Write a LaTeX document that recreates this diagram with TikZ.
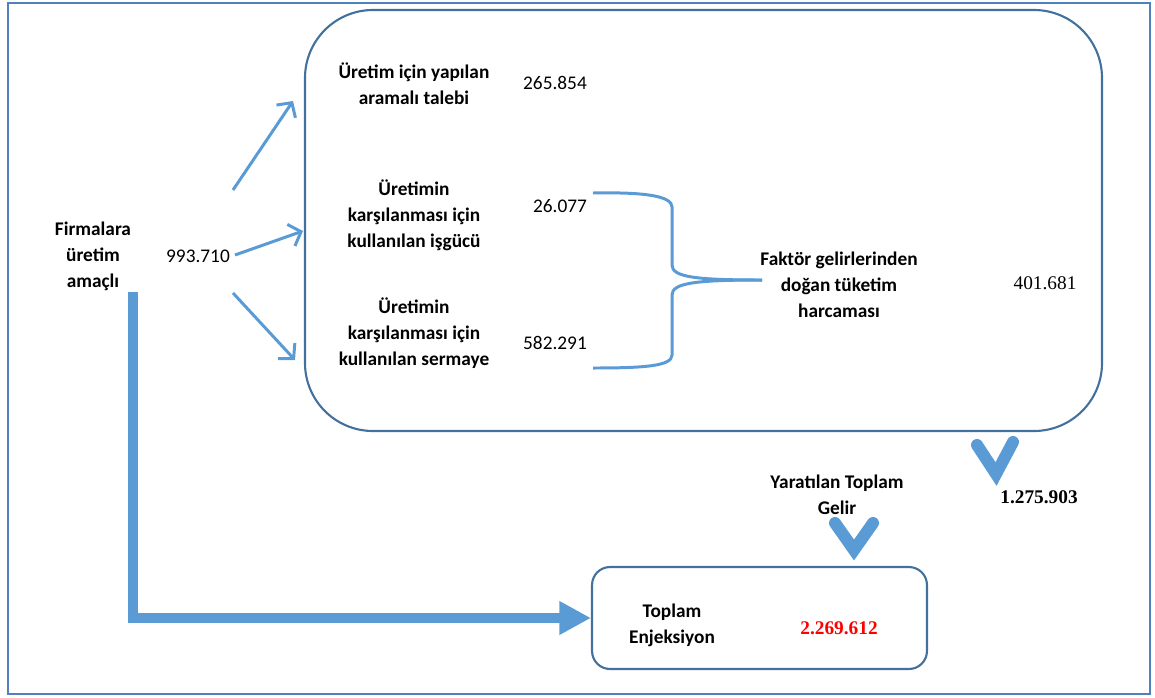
\documentclass[tikz,border=0pt]{standalone}
\usepackage{fontspec}
\setmainfont{Carlito}
\newfontfamily\timesf{Liberation Serif}
\usepackage{xcolor}
\usepackage{tikz}
\usetikzlibrary{arrows.meta,positioning}
\definecolor{frame1}{RGB}{79,129,189}
\definecolor{box1}{RGB}{65,113,156}
\definecolor{arrow1}{RGB}{91,155,213}
\definecolor{red1}{RGB}{255,0,0}

\tikzset{
  label/.style={align=center, inner sep=0pt, font={\fontsize{11}{14.8}\selectfont\bfseries}},
  value/.style={inner sep=0pt, font={\fontsize{11}{14.8}\selectfont}},
  tvalue/.style={inner sep=0pt, font={\fontsize{11}{14.8}\selectfont\timesf}},
  thin arrow/.style={arrow1, line width=1.7pt, -{Straight Barb[length=6pt,width=13pt]}},
  chevron/.style={arrow1, line width=0.24cm, line cap=round, line join=miter},
}

\begin{document}
\begin{tikzpicture}[x=0.02cm, y=-0.02cm]
    \useasboundingbox (0,0) rectangle (1155,697);
    % Outer frame
    \draw[frame1, line width=1.2pt] (8,3) rectangle (1150,694);
    % Big box
    \draw[box1, line width=1.2pt, rounded corners=1.36cm] (305,10) rectangle (1102,431);
    % Bottom box
    \node[draw=box1, line width=1.2pt, rounded corners=0.36cm, minimum width=6.7cm, minimum height=2.04cm] (enjkutu) at (759.5,618) {};
    % Left labels
    \node[label] (firma) at (93,256) {Firmalara\\üretim\\amaçlı};
    \node[value] (firmaval) at (198,256) {993.710};
    % Labels inside big box
    \node[label] (talep) at (414,84) {Üretim için yapılan\\aramalı talebi};
    \node[value] (talepval) at (555,83) {265.854};
    \node[label] (isgucu) at (414,215) {Üretimin\\karşılanması için\\kullanılan işgücü};
    \node[value] (isgucuval) at (560,206) {26.077};
    \node[label] (sermaye) at (414,333) {Üretimin\\karşılanması için\\kullanılan sermaye};
    \node[value] (sermayeval) at (555,343) {582.291};
    \node[label] (faktor) at (839,285) {Faktör gelirlerinden\\doğan tüketim\\harcaması};
    \node[tvalue] (faktorval) at (1045,283) {401.681};
    % Totals
    \node[tvalue, font={\fontsize{11}{14.8}\selectfont\timesf\bfseries}] (gelirval) at (1039,497) {1.275.903};
    \node[label] (toplamgelir) at (837,495) {Yaratılan Toplam\\Gelir};
    \node[label] (enjeksiyon) at (672,625) {Toplam\\Enjeksiyon};
    \node[tvalue, red1, font={\fontsize{11}{14.8}\selectfont\timesf\bfseries}] (enjval) at (839,628) {2.269.612};
    % Arrows from 993.710
    \coordinate (a1) at (233,190);
    \coordinate (a2) at (235,255);
    \coordinate (a3) at (233,293);
    \draw[thin arrow] (a1) -- (293,101);
    \draw[thin arrow] (a2) -- (303,231);
    \draw[thin arrow] (a3) -- (295,360);
    % Brace
    \draw[arrow1, line width=1.7pt] (593,193) .. controls (645,192) and (672,196) .. (672,207) -- (672,265)
        .. controls (672,277) and (695,280) .. (762,280);
    \draw[arrow1, line width=1.7pt] (762,280) .. controls (695,280) and (672,283) .. (672,295) -- (672,355)
        .. controls (672,366) and (645,368) .. (593,368);
    % Chevrons
    \draw[chevron] (977,445) -- (996,474) -- (1013,442);
    \draw[chevron] (835,523) -- (854,550) -- (873,523);
    % Thick L arrow
    \coordinate (lstart) at (133,292);
    \draw[arrow1, line width=6.2pt, -{Triangle[length=18pt,width=18pt]}] (lstart) |- (enjkutu.west);
\end{tikzpicture}
\end{document}
